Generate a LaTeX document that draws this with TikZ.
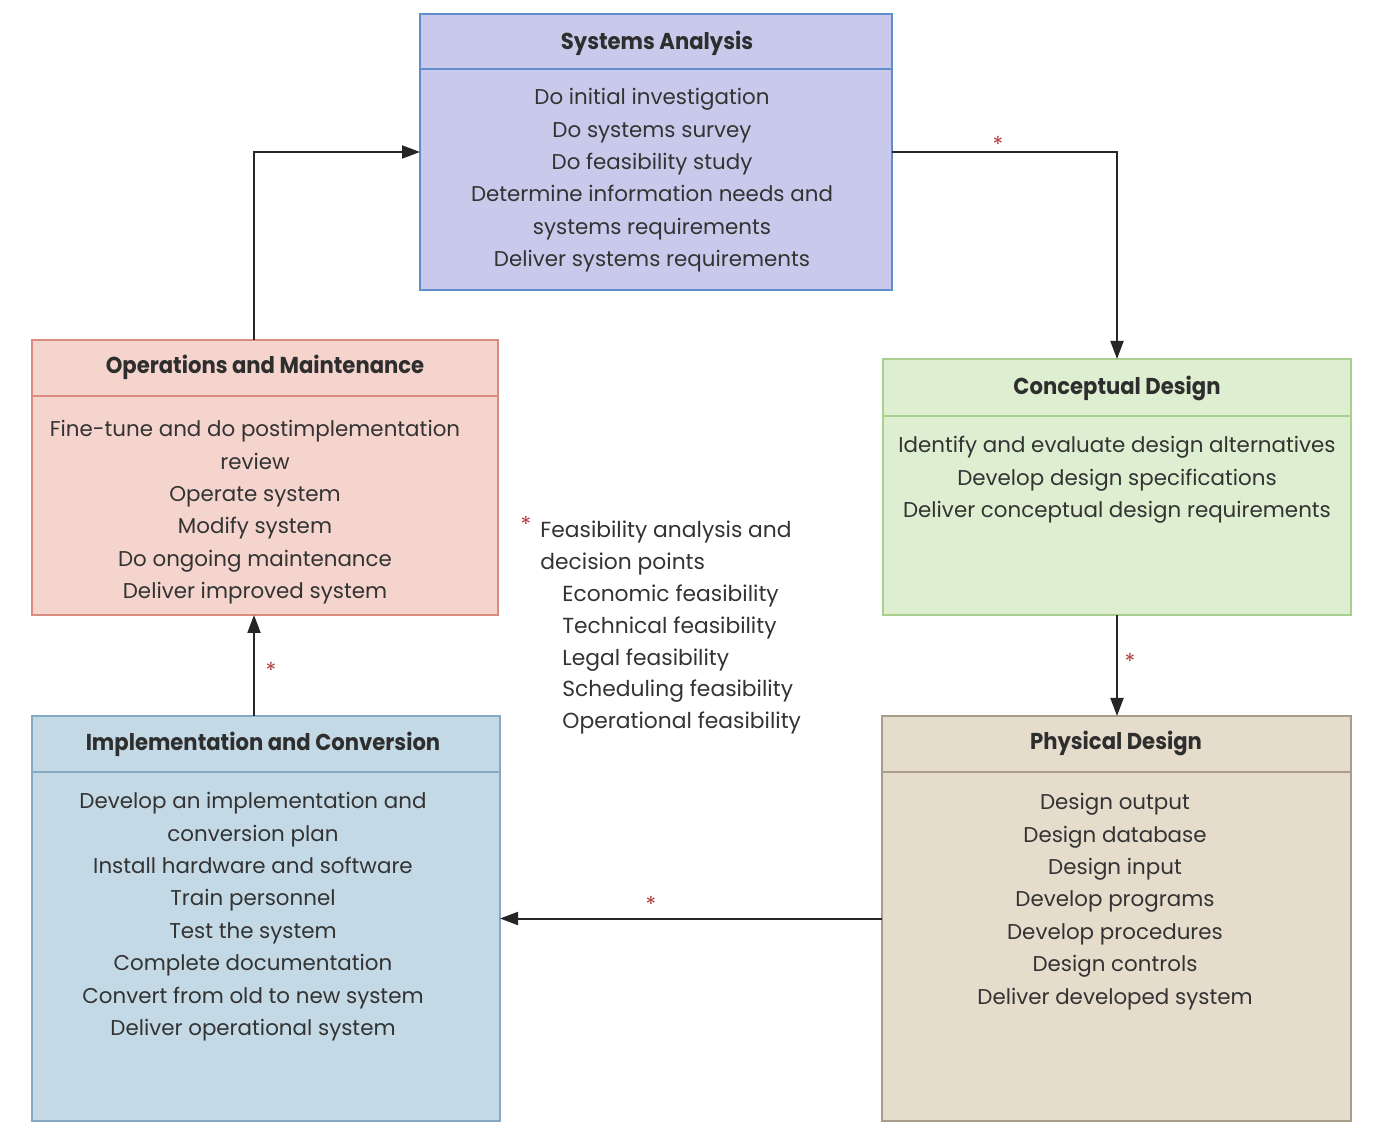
\documentclass[tikz,border=0pt]{standalone}
\usepackage{fontspec}
\setmainfont{Poppins}
\newfontfamily\titlefont[FakeStretch=0.92]{Poppins}
\usetikzlibrary{arrows.meta,calc}
\definecolor{saFill}{HTML}{C9CAEB}\definecolor{saLine}{HTML}{5E8FCC}
\definecolor{cdFill}{HTML}{DDEFD0}\definecolor{cdLine}{HTML}{A9CF8E}
\definecolor{omFill}{HTML}{F4D4CC}\definecolor{omLine}{HTML}{D98B80}
\definecolor{icFill}{HTML}{C4D9E6}\definecolor{icLine}{HTML}{86AAC2}
\definecolor{pdFill}{HTML}{E6DCCC}\definecolor{pdLine}{HTML}{A89D8B}
\definecolor{txt}{HTML}{333333}
\definecolor{star}{HTML}{B04040}
\tikzset{
  x=0.5pt,y=-0.5pt,
  phase/.style={draw,line width=1pt,inner sep=0pt,outer sep=0pt},
  ttl/.style={font=\titlefont\bfseries\fontsize{11.5}{13}\selectfont,text=txt!90!black},
  body/.style={font=\fontsize{10.7}{16.2}\selectfont,align=center,text=txt,anchor=north,inner sep=0pt},
  note/.style={font=\fontsize{10.9}{15.9}\selectfont,align=left,text=txt,anchor=north west,inner sep=0pt},
  arr/.style={line width=1pt,black!85,-{Triangle[length=9pt,width=6.5pt]}},
  ast/.style={text=star,font=\fontsize{11}{11}\selectfont,inner sep=0pt},
}
\begin{document}
\begin{tikzpicture}
\useasboundingbox (0,0) rectangle (1388,1138);
% Systems Analysis
\node[phase,draw=saLine,fill=saFill,minimum width=236pt,minimum height=138pt] (sa) at (656,152) {};
\draw[saLine,line width=1pt] (420,69) -- (892,69);
\node[ttl] (saT) at (657,43) {Systems Analysis};
\node[body] (saB) at (652,88) {Do initial investigation\\Do systems survey\\Do feasibility study\\Determine information needs and\\systems requirements\\Deliver systems requirements};
% Conceptual Design
\node[phase,draw=cdLine,fill=cdFill,minimum width=234pt,minimum height=128pt] (cd) at (1117,487) {};
\draw[cdLine,line width=1pt] (883,416) -- (1351,416);
\node[ttl] (cdT) at (1117,388) {Conceptual Design};
\node[body] (cdB) at (1117,436) {Identify and evaluate design alternatives\\Develop design specifications\\Deliver conceptual design requirements};
% Operations and Maintenance
\node[phase,draw=omLine,fill=omFill,minimum width=233pt,minimum height=137.5pt] (om) at (265,477.5) {};
\draw[omLine,line width=1pt] (32,396) -- (498,396);
\node[ttl] (omT) at (265,367) {Operations and Maintenance};
\node[body] (omB) at (255,420) {Fine-tune and do postimplementation\\review\\Operate system\\Modify system\\Do ongoing maintenance\\Deliver improved system};
% Implementation and Conversion
\node[phase,draw=icLine,fill=icFill,minimum width=234pt,minimum height=202.5pt] (ic) at (266,918.5) {};
\draw[icLine,line width=1pt] (32,772) -- (500,772);
\node[ttl] (icT) at (263,744) {Implementation and Conversion};
\node[body] (icB) at (253,792) {Develop an implementation and\\conversion plan\\Install hardware and software\\Train personnel\\Test the system\\Complete documentation\\Convert from old to new system\\Deliver operational system};
% Physical Design
\node[phase,draw=pdLine,fill=pdFill,minimum width=234.5pt,minimum height=202.5pt] (pd) at (1116.5,918.5) {};
\draw[pdLine,line width=1pt] (882,772) -- (1351,772);
\node[ttl] (pdT) at (1116,743) {Physical Design};
\node[body] (pdB) at (1115,793) {Design output\\Design database\\Design input\\Develop programs\\Develop procedures\\Design controls\\Deliver developed system};
% Note
\node[ast] (nA) at (526,524) {*};
\node[note] (nT) at (540,521) {Feasibility analysis and\\decision points\\\hspace*{11pt}Economic feasibility\\\hspace*{11pt}Technical feasibility\\\hspace*{11pt}Legal feasibility\\\hspace*{11pt}Scheduling feasibility\\\hspace*{11pt}Operational feasibility};
% connectors
\coordinate (lx) at (254,0);
\draw[arr] (om.north -| lx) |- (sa.west);
\draw[arr] (sa.east) -| (cd.north);
\draw[arr] (cd.south) -- (cd.south |- pd.north);
\draw[arr] (pd.west) -- (pd.west -| ic.east);
\draw[arr] (ic.north -| lx) -- (om.south -| lx);
% asterisks
\node[ast] (a1) at (998,144) {*};
\node[ast] (a2) at (1130,661) {*};
\node[ast] (a3) at (651,904) {*};
\node[ast] (a4) at (271,670) {*};
\end{tikzpicture}
\end{document}
